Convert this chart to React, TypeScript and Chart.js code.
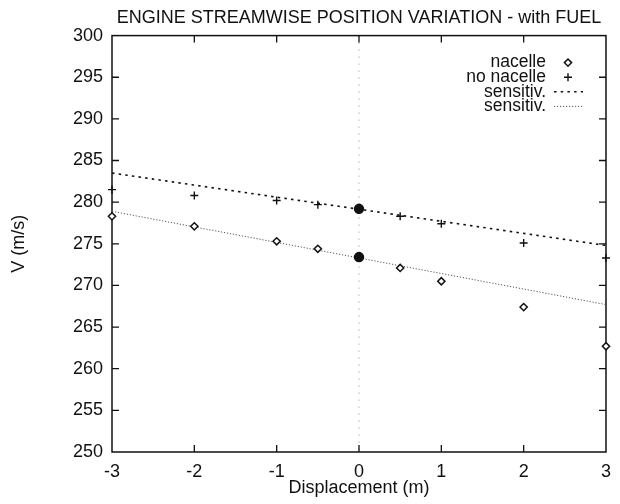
import React, { useEffect, useRef } from "react";
import { Chart, registerables } from "chart.js";

Chart.register(...registerables);

// ---- data ----
const titleText = "ENGINE STREAMWISE POSITION VARIATION - with FUEL";
const xAxisTitle = "Displacement (m)";
const yAxisTitle = "V (m/s)";

const xTickValues = [-3, -2, -1, 0, 1, 2, 3];
const yTickValues = [250, 255, 260, 265, 270, 275, 280, 285, 290, 295, 300];

const displacement = [-3, -2, -1, -0.5, 0, 0.5, 1, 2, 3];
const vNacelle = [278.3, 277.1, 275.3, 274.4, 273.4, 272.1, 270.5, 267.4, 262.7];
const vNoNacelle = [281.5, 280.8, 280.2, 279.7, 279.2, 278.3, 277.4, 275.1, 273.3];

const sensX = [-3, 3];
const sensNoNacelle = [283.5, 274.8];
const sensNacelle = [278.9, 267.7];

const seriesLabels = ["nacelle", "no nacelle", "sensitiv.", "sensitiv."];
const baselineX = 0; // reference position, drawn as filled dot

const FONT = "'Liberation Sans', Arial, Helvetica, sans-serif";
const INK = "#111";

const toPoints = (xs: number[], ys: number[]) => xs.map((x, i) => ({ x, y: ys[i] }));

const framePlugin = {
  id: "gnuFrame",
  beforeDatasetsDraw(chart: any) {
    const { ctx, chartArea, scales } = chart;
    const { left, right, top, bottom } = chartArea;
    const xs = scales.x;
    const ys = scales.y;
    ctx.save();
    // zero axis
    const x0 = xs.getPixelForValue(0);
    ctx.strokeStyle = "#8a8a8a";
    ctx.lineWidth = 1;
    ctx.setLineDash([1, 6]);
    ctx.beginPath();
    ctx.moveTo(x0, top);
    ctx.lineTo(x0, bottom);
    ctx.stroke();
    ctx.setLineDash([]);
    // frame
    ctx.strokeStyle = INK;
    ctx.lineWidth = 1.5;
    ctx.strokeRect(left, top, right - left, bottom - top);
    // inward ticks
    const tl = 7;
    ctx.lineWidth = 1.3;
    ctx.beginPath();
    yTickValues.forEach((v) => {
      if (v === ys.min || v === ys.max) return;
      const y = ys.getPixelForValue(v);
      ctx.moveTo(left, y);
      ctx.lineTo(left + tl, y);
      ctx.moveTo(right, y);
      ctx.lineTo(right - tl, y);
    });
    xTickValues.forEach((v) => {
      if (v === xs.min || v === xs.max) return;
      const x = xs.getPixelForValue(v);
      ctx.moveTo(x, bottom);
      ctx.lineTo(x, bottom - tl);
      ctx.moveTo(x, top);
      ctx.lineTo(x, top + tl);
    });
    ctx.stroke();
    ctx.restore();
  },
  afterDatasetsDraw(chart: any) {
    // gnuplot-style key: text right-aligned, sample on the right
    const { ctx, chartArea } = chart;
    const { right, top } = chartArea;
    ctx.save();
    ctx.font = `17.5px ${FONT}`;
    ctx.fillStyle = INK;
    ctx.textAlign = "right";
    ctx.textBaseline = "middle";
    chart.data.datasets.forEach((ds: any, i: number) => {
      const y = top + 27 + i * 14.6;
      ctx.fillText(ds.label, right - 60, y);
      const mx = right - 38;
      ctx.strokeStyle = ds.borderColor;
      if (ds.showLine) {
        ctx.lineWidth = ds.borderWidth;
        ctx.setLineDash(ds.borderDash);
        ctx.beginPath();
        ctx.moveTo(right - 52, y);
        ctx.lineTo(right - 23, y);
        ctx.stroke();
        ctx.setLineDash([]);
      } else if (i === 0) {
        const r = 3.6;
        ctx.lineWidth = 1.5;
        ctx.beginPath();
        ctx.moveTo(mx, y - r);
        ctx.lineTo(mx + r, y);
        ctx.lineTo(mx, y + r);
        ctx.lineTo(mx - r, y);
        ctx.closePath();
        ctx.stroke();
      } else {
        const r = 4;
        ctx.lineWidth = 1.4;
        ctx.beginPath();
        ctx.moveTo(mx - r, y);
        ctx.lineTo(mx + r, y);
        ctx.moveTo(mx, y - r);
        ctx.lineTo(mx, y + r);
        ctx.stroke();
      }
    });
    ctx.restore();
  },
};

export default function App() {
  const ref = useRef<HTMLCanvasElement | null>(null);

  useEffect(() => {
    if (!ref.current) return;
    const isBase = (c: any) => c.raw && c.raw.x === baselineX;
    const chart = new Chart(ref.current, {
      type: "scatter",
      data: {
        datasets: [
          {
            label: seriesLabels[0],
            data: toPoints(displacement, vNacelle),
            showLine: false,
            borderColor: INK,
            pointStyle: (c: any) => (isBase(c) ? "circle" : "rectRot"),
            pointRadius: (c: any) => (isBase(c) ? 4.5 : 3.6),
            pointBorderWidth: 1.5,
            pointBorderColor: INK,
            pointBackgroundColor: (c: any) => (isBase(c) ? INK : "#fff"),
            clip: false,
          } as any,
          {
            label: seriesLabels[1],
            data: toPoints(displacement, vNoNacelle),
            showLine: false,
            borderColor: INK,
            pointStyle: (c: any) => (isBase(c) ? "circle" : "cross"),
            pointRadius: (c: any) => (isBase(c) ? 4.5 : 4),
            pointBorderWidth: 1.4,
            pointBorderColor: INK,
            pointBackgroundColor: INK,
            clip: false,
          } as any,
          {
            label: seriesLabels[2],
            data: toPoints(sensX, sensNoNacelle),
            showLine: true,
            borderColor: "#111",
            borderWidth: 1.6,
            borderDash: [2.5, 4.2],
            pointRadius: 0,
            clip: false,
          } as any,
          {
            label: seriesLabels[3],
            data: toPoints(sensX, sensNacelle),
            showLine: true,
            borderColor: "#555",
            borderWidth: 1,
            borderDash: [1.2, 1.8],
            pointRadius: 0,
            clip: false,
          } as any,
        ],
      },
      options: {
        responsive: false,
        animation: false,
        events: [],
        layout: { padding: { left: 0, right: 14, top: 0, bottom: 0 } },
        plugins: {
          legend: { display: false },
          tooltip: { enabled: false },
          title: {
            display: true,
            text: titleText,
            fullSize: false,
            color: INK,
            font: { family: FONT, size: 18, weight: "normal" },
            padding: { top: 7, bottom: 7 },
          },
        },
        scales: {
          x: {
            type: "linear",
            min: -3,
            max: 3,
            afterBuildTicks: (s: any) => {
              s.ticks = xTickValues.map((v) => ({ value: v }));
            },
            afterFit: (s: any) => {
              s.height = 52;
            },
            grid: { display: false, drawTicks: false },
            border: { display: false },
            ticks: {
              color: INK,
              padding: 9,
              maxRotation: 0,
              autoSkip: false,
              font: { family: FONT, size: 18 },
            },
            title: {
              display: true,
              text: xAxisTitle,
              color: INK,
              font: { family: FONT, size: 18 },
              padding: { top: 0, bottom: 5 },
            },
          },
          y: {
            type: "linear",
            min: 250,
            max: 300,
            afterBuildTicks: (s: any) => {
              s.ticks = yTickValues.map((v) => ({ value: v }));
            },
            afterFit: (s: any) => {
              s.width = 112;
            },
            grid: { display: false, drawTicks: false },
            border: { display: false },
            ticks: {
              color: INK,
              padding: 9,
              autoSkip: false,
              font: { family: FONT, size: 18 },
            },
            title: {
              display: true,
              text: yAxisTitle,
              color: INK,
              font: { family: FONT, size: 18 },
              padding: { top: 8, bottom: 0 },
            },
          },
        },
      },
      plugins: [framePlugin],
    });
    return () => chart.destroy();
  }, []);

  return (
    <div style={{ position: "absolute", left: 0, top: 0, width: 620, height: 504, background: "#fff" }}>
      <canvas ref={ref} width={620} height={504} style={{ display: "block" }} />
    </div>
  );
}
